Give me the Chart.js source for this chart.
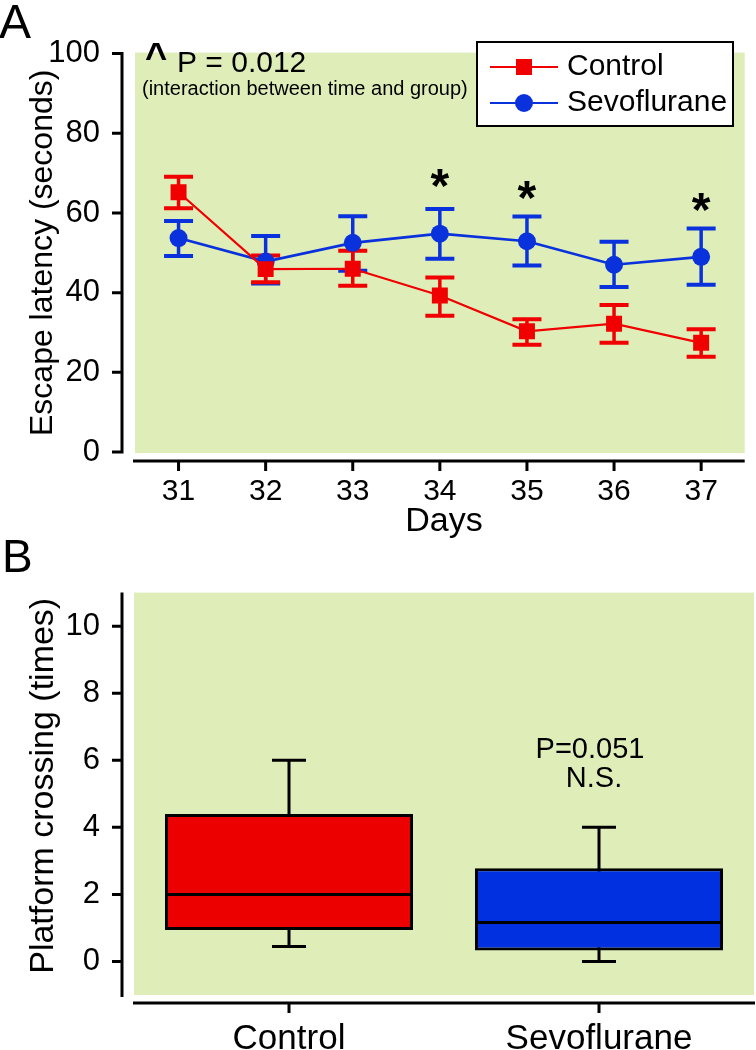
<!DOCTYPE html>
<html>
<head>
<meta charset="utf-8">
<script src="https://cdn.jsdelivr.net/npm/chart.js@4.4.1/dist/chart.umd.min.js"></script>
<style>
  html, body { margin: 0; padding: 0; background: #fff; }
  canvas { display: block; }
</style>
</head>
<body>
<canvas id="chartA" width="756" height="540"></canvas>
<canvas id="chartB" width="756" height="510"></canvas>
<script>
// panel A: escape latency per day (mean and error bar ends)
const days = ['31', '32', '33', '34', '35', '36', '37'];
const latencyTicks = [0, 20, 40, 60, 80, 100];
const controlMean = [65.2, 45.9, 46.0, 39.3, 30.3, 32.2, 27.4];
const controlLow = [61.2, 42.6, 41.7, 34.2, 26.9, 27.4, 23.9];
const controlHigh = [69.1, 49.3, 50.5, 43.8, 33.3, 36.9, 30.8];
const sevoMean = [53.7, 47.8, 52.5, 54.8, 52.9, 47.0, 49.0];
const sevoLow = [49.2, 42.3, 45.5, 48.5, 46.8, 41.4, 42.0];
const sevoHigh = [58.0, 54.2, 59.2, 61.0, 59.1, 52.8, 56.1];
const starDays = ['34', '35', '37'];
const starLevel = [69.2, 66.4, 63.3];

// panel B: platform crossing box plot
const groups = ['Control', 'Sevoflurane'];
const crossingTicks = [0, 2, 4, 6, 8, 10];
const boxQ1 = [0.94, 0.33];
const boxQ3 = [4.4, 2.78];
const boxMedian = [2.0, 1.16];
const whiskerLow = [0.45, 0];
const whiskerHigh = [6.0, 4.0];

const FONT = '"Liberation Sans", Arial, Helvetica, sans-serif';
const GREEN = '#dfedb9';
const RED = '#f00000';
const BLUE = '#0a32dc';
const BOX_RED = '#ec0000';
const BOX_BLUE = '#0030e0';

function errorBars(ctx, x, y, mean, low, high, color) {
  ctx.strokeStyle = color;
  mean.forEach((m, i) => {
    const px = x.getPixelForValue(i);
    const top = y.getPixelForValue(high[i]);
    const bot = y.getPixelForValue(low[i]);
    ctx.lineWidth = 3.5;
    ctx.beginPath();
    ctx.moveTo(px, top);
    ctx.lineTo(px, bot);
    ctx.stroke();
    ctx.lineWidth = 4;
    ctx.beginPath();
    ctx.moveTo(px - 14.5, top);
    ctx.lineTo(px + 14.5, top);
    ctx.moveTo(px - 14.5, bot);
    ctx.lineTo(px + 14.5, bot);
    ctx.stroke();
  });
}

const panelA = {
  id: 'panelA',
  beforeDraw(chart) {
    const { ctx, chartArea: a } = chart;
    ctx.save();
    ctx.fillStyle = GREEN;
    ctx.fillRect(a.left, a.top - 1, a.right - a.left, a.bottom - a.top + 2);
    ctx.restore();
  },
  beforeDatasetsDraw(chart) {
    const { ctx, scales: { x, y } } = chart;
    ctx.save();
    errorBars(ctx, x, y, sevoMean, sevoLow, sevoHigh, BLUE);
    errorBars(ctx, x, y, controlMean, controlLow, controlHigh, RED);
    ctx.restore();
  },
  afterDraw(chart) {
    const { ctx, chartArea: a, scales: { x, y } } = chart;
    ctx.save();
    // axes, set off from the plot area
    ctx.strokeStyle = '#000';
    ctx.lineWidth = 3;
    const axisX = a.left - 13;
    const axisY = a.bottom + 9;
    ctx.beginPath();
    ctx.moveTo(axisX, y.getPixelForValue(100) - 1.5);
    ctx.lineTo(axisX, y.getPixelForValue(0) + 1.5);
    latencyTicks.forEach(v => {
      const py = y.getPixelForValue(v);
      ctx.moveTo(axisX - 10, py);
      ctx.lineTo(axisX, py);
    });
    ctx.moveTo(a.left - 2, axisY);
    ctx.lineTo(a.right, axisY);
    days.forEach((d, i) => {
      const px = x.getPixelForValue(i);
      ctx.moveTo(px, axisY);
      ctx.lineTo(px, axisY + 10);
    });
    ctx.stroke();

    ctx.fillStyle = '#000';
    // axis titles
    ctx.font = '34px ' + FONT;
    ctx.textAlign = 'center';
    ctx.textBaseline = 'alphabetic';
    ctx.fillText('Days', 444, 531);
    ctx.save();
    ctx.translate(52, (a.top + a.bottom) / 2);
    ctx.rotate(-Math.PI / 2);
    ctx.font = '32px ' + FONT;
    ctx.fillText('Escape latency (seconds)', 0, 0);
    ctx.restore();

    // panel letter
    ctx.textAlign = 'left';
    ctx.font = '48px ' + FONT;
    ctx.fillText('A', -1, 38);

    // interaction note
    ctx.font = 'bold 38px ' + FONT;
    ctx.fillText('^', 145, 70);
    ctx.font = '30px ' + FONT;
    ctx.fillText('P = 0.012', 177, 72);
    ctx.font = '20px ' + FONT;
    ctx.fillText('(interaction between time and group)', 142, 95);

    // significance stars
    ctx.font = 'bold 48px ' + FONT;
    ctx.textAlign = 'center';
    starDays.forEach((d, i) => {
      const px = x.getPixelForValue(days.indexOf(d));
      const py = y.getPixelForValue(starLevel[i]);
      ctx.fillText('*', px, py + 0.545 * 48);
    });

    // legend
    ctx.fillStyle = '#fff';
    ctx.fillRect(477, 42, 256, 84);
    ctx.lineWidth = 2;
    ctx.strokeStyle = '#000';
    ctx.strokeRect(477, 42, 256, 84);
    const rows = [
      { label: chart.data.datasets[0].label, color: RED, shape: 'rect', cy: 67 },
      { label: chart.data.datasets[1].label, color: BLUE, shape: 'circle', cy: 103 }
    ];
    rows.forEach(r => {
      ctx.strokeStyle = r.color;
      ctx.fillStyle = r.color;
      ctx.lineWidth = 2;
      ctx.beginPath();
      ctx.moveTo(490, r.cy);
      ctx.lineTo(558, r.cy);
      ctx.stroke();
      if (r.shape === 'rect') {
        ctx.fillRect(524 - 8, r.cy - 8, 16, 16);
      } else {
        ctx.beginPath();
        ctx.arc(524, r.cy, 9, 0, Math.PI * 2);
        ctx.fill();
      }
      ctx.fillStyle = '#000';
      ctx.textAlign = 'left';
      ctx.textBaseline = 'middle';
      ctx.font = '30px ' + FONT;
      ctx.fillText(r.label, 567, r.cy);
    });
    ctx.restore();
  }
};

new Chart(document.getElementById('chartA'), {
  type: 'line',
  data: {
    labels: days,
    datasets: [
      {
        label: 'Control',
        data: controlMean,
        borderColor: RED,
        backgroundColor: RED,
        borderWidth: 2.2,
        pointStyle: 'rect',
        pointRadius: 11.3,
        pointBorderWidth: 0,
        tension: 0
      },
      {
        label: 'Sevoflurane',
        data: sevoMean,
        borderColor: BLUE,
        backgroundColor: BLUE,
        borderWidth: 2.7,
        pointStyle: 'circle',
        pointRadius: 9,
        pointBorderWidth: 0,
        tension: 0
      }
    ]
  },
  options: {
    responsive: false,
    animation: false,
    devicePixelRatio: 1,
    layout: { padding: { top: 30, right: 4, left: 0, bottom: 0 } },
    plugins: { legend: { display: false }, tooltip: { enabled: false } },
    scales: {
      x: {
        type: 'category',
        offset: true,
        grid: { display: false, drawTicks: false },
        border: { display: false },
        ticks: { color: '#000', font: { family: FONT, size: 30 }, padding: 22, autoSkip: false, maxRotation: 0 },
        afterFit: s => { s.height = 88; }
      },
      y: {
        min: 0,
        max: 100,
        grid: { display: false, drawTicks: false },
        border: { display: false },
        ticks: { color: '#000', font: { family: FONT, size: 31 }, padding: 35 },
        afterBuildTicks: s => { s.ticks = latencyTicks.map(v => ({ value: v })); },
        afterFit: s => { s.width = 135; }
      }
    }
  },
  plugins: [panelA]
});

const panelB = {
  id: 'panelB',
  beforeDraw(chart) {
    const { ctx, chartArea: a } = chart;
    ctx.save();
    ctx.fillStyle = GREEN;
    ctx.fillRect(a.left, a.top, a.right - a.left, a.bottom - a.top);
    ctx.restore();
  },
  beforeDatasetsDraw(chart) {
    const { ctx, scales: { x, y } } = chart;
    ctx.save();
    ctx.strokeStyle = '#000';
    ctx.lineWidth = 3;
    groups.forEach((g, i) => {
      const px = x.getPixelForValue(i);
      const top = y.getPixelForValue(whiskerHigh[i]);
      const bot = y.getPixelForValue(whiskerLow[i]);
      ctx.beginPath();
      ctx.moveTo(px, top);
      ctx.lineTo(px, bot);
      ctx.moveTo(px - 17, top);
      ctx.lineTo(px + 17, top);
      ctx.moveTo(px - 17, bot);
      ctx.lineTo(px + 17, bot);
      ctx.stroke();
    });
    ctx.restore();
  },
  afterDatasetsDraw(chart) {
    const { ctx, scales: { y } } = chart;
    const meta = chart.getDatasetMeta(0);
    ctx.save();
    ctx.strokeStyle = '#000';
    ctx.lineWidth = 3;
    groups.forEach((g, i) => {
      const bar = meta.data[i];
      const py = y.getPixelForValue(boxMedian[i]);
      ctx.beginPath();
      ctx.moveTo(bar.x - bar.width / 2, py);
      ctx.lineTo(bar.x + bar.width / 2, py);
      ctx.stroke();
    });
    ctx.restore();
  },
  afterDraw(chart) {
    const { ctx, chartArea: a, scales: { x, y } } = chart;
    ctx.save();
    ctx.strokeStyle = '#000';
    ctx.lineWidth = 3;
    const axisX = a.left - 12;
    const axisY = a.bottom + 8;
    ctx.beginPath();
    ctx.moveTo(axisX, a.top);
    ctx.lineTo(axisX, a.bottom + 2);
    crossingTicks.forEach(v => {
      const py = y.getPixelForValue(v);
      ctx.moveTo(axisX - 10, py);
      ctx.lineTo(axisX, py);
    });
    ctx.moveTo(a.left - 1, axisY);
    ctx.lineTo(a.right + 1, axisY);
    groups.forEach((g, i) => {
      const px = x.getPixelForValue(i);
      ctx.moveTo(px, axisY);
      ctx.lineTo(px, axisY + 10);
    });
    ctx.stroke();

    ctx.fillStyle = '#000';
    ctx.textBaseline = 'alphabetic';
    ctx.save();
    ctx.translate(53, (a.top + a.bottom) / 2 - 8);
    ctx.rotate(-Math.PI / 2);
    ctx.textAlign = 'center';
    ctx.font = '34px ' + FONT;
    ctx.fillText('Platform crossing (times)', 0, 0);
    ctx.restore();

    ctx.textAlign = 'left';
    ctx.font = '46px ' + FONT;
    ctx.fillText('B', 2, 32);

    ctx.textAlign = 'center';
    ctx.font = '29px ' + FONT;
    ctx.fillText('P=0.051', 590, 218);
    ctx.fillText('N.S.', 594, 247);
    ctx.restore();
  }
};

new Chart(document.getElementById('chartB'), {
  type: 'bar',
  data: {
    labels: groups,
    datasets: [{
      data: groups.map((g, i) => [boxQ1[i], boxQ3[i]]),
      backgroundColor: [BOX_RED, BOX_BLUE],
      borderColor: '#000',
      borderWidth: 3,
      borderSkipped: false,
      barPercentage: 1,
      categoryPercentage: 0.8
    }]
  },
  options: {
    responsive: false,
    animation: false,
    devicePixelRatio: 1,
    layout: { padding: { top: 33, right: 2, left: 0, bottom: 0 } },
    plugins: { legend: { display: false }, tooltip: { enabled: false } },
    scales: {
      x: {
        grid: { display: false, drawTicks: false },
        border: { display: false },
        ticks: { color: '#000', font: { family: FONT, size: 35 }, padding: 23, maxRotation: 0 },
        afterFit: s => { s.height = 55; }
      },
      y: {
        min: -1,
        max: 11,
        grid: { display: false, drawTicks: false },
        border: { display: false },
        ticks: { color: '#000', font: { family: FONT, size: 31 }, padding: 34 },
        afterBuildTicks: s => { s.ticks = crossingTicks.map(v => ({ value: v })); },
        afterFit: s => { s.width = 134; }
      }
    }
  },
  plugins: [panelB]
});
</script>
</body>
</html>
